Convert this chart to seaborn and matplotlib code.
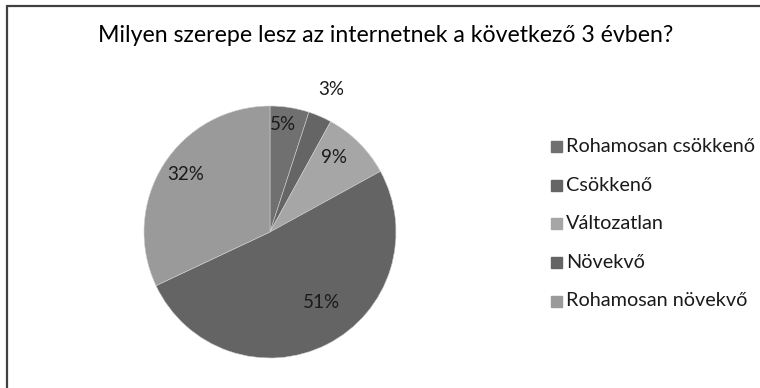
import numpy as np
import matplotlib
matplotlib.use("Agg")
import matplotlib.pyplot as plt
import seaborn as sns

title = "Milyen szerepe lesz az internetnek a következő 3 évben?"
categories = ["Rohamosan csökkenő", "Csökkenő", "Változatlan", "Növekvő", "Rohamosan növekvő"]
shares = [5, 3, 9, 51, 32]
colors = ["#707070", "#656565", "#a6a6a6", "#646464", "#9a9a9a"]

sns.set_theme(style="white")
plt.rcParams["font.family"] = ["Lato", "DejaVu Sans"]

W, H = 760, 388
fig = plt.figure(figsize=(W / 100, H / 100), dpi=100)
fig.patch.set_facecolor("white")

# chart frame (top and left edges visible)
fig.add_artist(plt.Line2D([6.5 / W, 6.5 / W], [0, 1 - 5.5 / H], color="#404040", lw=1.6))
fig.add_artist(plt.Line2D([6.5 / W, 1], [1 - 5.5 / H, 1 - 5.5 / H], color="#404040", lw=1.6))

fig.text(386 / W, 1 - 36 / H, title, ha="center", va="center", fontsize=16.7, color="#000000")

cx, cy, r = 270, 388 - 232, 126
ax = fig.add_axes([(cx - r) / W, (cy - r) / H, 2 * r / W, 2 * r / H])
wedges, _ = ax.pie(shares, colors=colors, startangle=90, counterclock=False,
                   wedgeprops=dict(edgecolor="#d0d0d0", linewidth=0.4))
ax.set_xlim(-1, 1)
ax.set_ylim(-1, 1)
ax.set_aspect("equal")
ax.axis("off")

# label placement: radius factor and angular nudge (degrees) per slice
label_r = [0.86, 1.23, 0.78, 0.69, 0.81]
label_dang = [2, 0, 4, 9, -2]
for w, s, lr, da in zip(wedges, shares, label_r, label_dang):
    ang = np.deg2rad((w.theta1 + w.theta2) / 2 + da)
    ax.text(lr * np.cos(ang), lr * np.sin(ang), f"{s}%", ha="center", va="center",
            fontsize=13.5, color="#1a1a1a", clip_on=False)

# legend
for i, (c, lab) in enumerate(zip(colors, categories)):
    y = 1 - (147 + 38.5 * i) / H
    fig.patches.append(plt.Rectangle((551 / W, y - 5.5 / H), 11 / W, 11 / H,
                                     transform=fig.transFigure, color=c))
    fig.text(566 / W, y, lab, ha="left", va="center", fontsize=14.3, color="#1a1a1a")

fig.savefig("out.png", dpi=100, facecolor="white")
